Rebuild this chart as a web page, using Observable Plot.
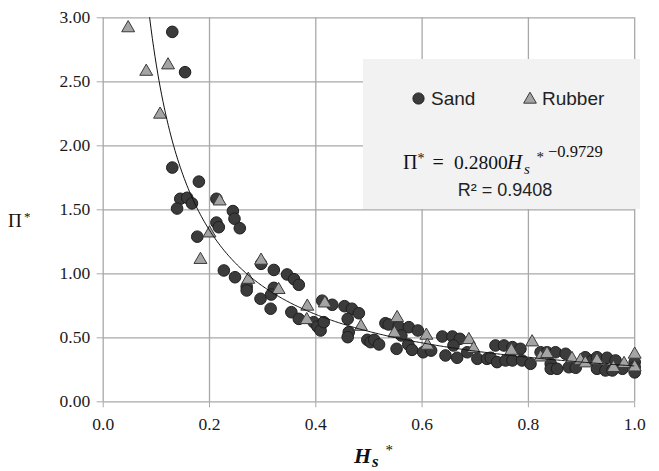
<!DOCTYPE html>
<html>
<head>
<meta charset="utf-8">
<script src="https://cdn.jsdelivr.net/npm/d3@7"></script>
<script src="https://cdn.jsdelivr.net/npm/@observablehq/plot@0.6"></script>
<style>
  html, body { margin: 0; padding: 0; background: #fff; }
  #chart { width: 659px; height: 471px; }
</style>
</head>
<body>
<div id="chart"></div>
<script>
// ---- Data ----
const sandX = [0.130,0.154,0.130,0.180,0.145,0.158,0.167,0.139,0.213,0.244,0.247,0.257,0.213,0.2175,0.177,
  0.227,0.248,0.270,0.270,0.296,0.315,0.297,0.321,0.346,0.359,0.368,0.321,0.316,0.354,0.368,
  0.396,0.403,0.409,0.415,0.412,0.431,0.454,0.468,0.481,0.460,0.462,0.460,0.497,0.503,0.510,
  0.519,0.531,0.537,0.556,0.575,0.592,0.561,0.552,0.574,0.581,0.602,0.617,0.638,0.657,0.671,
  0.644,0.666,0.659,0.685,0.704,0.722,0.729,0.741,0.738,0.754,0.770,0.785,0.757,0.770,0.788,
  0.804,0.823,0.835,0.851,0.870,0.842,0.842,0.854,0.876,0.889,0.907,0.920,0.929,0.948,0.964,
  0.929,0.945,0.958,0.977,1.000,1.000,1.000];
const sandY = [2.89,2.575,1.83,1.72,1.586,1.594,1.55,1.51,1.586,1.49,1.43,1.356,1.40,1.364,1.29,
  1.026,0.973,0.90,0.87,0.805,0.727,1.078,1.03,0.995,0.958,0.914,0.89,0.838,0.70,0.648,
  0.622,0.588,0.557,0.622,0.79,0.758,0.747,0.727,0.692,0.648,0.544,0.505,0.484,0.466,0.484,
  0.448,0.614,0.604,0.588,0.583,0.557,0.518,0.414,0.448,0.406,0.387,0.40,0.51,0.51,0.492,
  0.362,0.344,0.44,0.387,0.336,0.336,0.344,0.31,0.44,0.44,0.427,0.414,0.323,0.323,0.323,
  0.297,0.387,0.387,0.387,0.375,0.297,0.258,0.258,0.27,0.266,0.348,0.323,0.348,0.344,0.323,
  0.258,0.245,0.245,0.258,0.31,0.27,0.23];
const rubberX = [0.047,0.081,0.122,0.107,0.219,0.200,0.183,0.273,0.297,0.330,0.384,0.383,0.417,0.485,
  0.553,0.548,0.608,0.610,0.688,0.697,0.768,0.807,0.823,0.835,0.882,0.898,0.907,0.929,0.960,0.980,1.000,1.000];
const rubberY = [2.92,2.58,2.63,2.245,1.567,1.317,1.11,0.955,1.104,0.875,0.745,0.64,0.77,0.588,
  0.656,0.536,0.518,0.44,0.484,0.414,0.40,0.466,0.348,0.375,0.336,0.323,0.302,0.323,0.266,0.297,0.37,0.27];
const xTicks = [0, 0.2, 0.4, 0.6, 0.8, 1.0];
const yTicks = [0, 0.5, 1.0, 1.5, 2.0, 2.5, 3.0];
// Power trendline stated on the chart: Π* = 0.2800 Hs*^-0.9729
const trendA = 0.2800, trendB = -0.9729;

const sand = sandX.map((x, i) => ({x, y: sandY[i]}));
const rubber = rubberX.map((x, i) => ({x, y: rubberY[i]}));
const trend = d3.range(0.085, 1.0001, 0.0025).map(x => ({x, y: trendA * Math.pow(x, trendB)}));

const gridColor = "#a8a8a8";
const tickFont = "'Liberation Serif', serif";
const svg = Plot.plot({
  width: 659, height: 471,
  marginLeft: 102.7, marginRight: 24.8, marginTop: 17.3, marginBottom: 69.7,
  style: {fontFamily: tickFont, fontSize: "17.5px", background: "#fff", color: "#1a1a1a"},
  x: {domain: [0, 1]},
  y: {domain: [0, 3]},
  marks: [
    Plot.gridX(xTicks, {stroke: gridColor, strokeOpacity: 1, strokeWidth: 1.3}),
    Plot.gridY(yTicks, {stroke: gridColor, strokeOpacity: 1, strokeWidth: 1.3}),
    Plot.axisX(xTicks, {tickSize: 6, tickPadding: 10, stroke: gridColor, fill: "#1a1a1a", fontSize: 17.5, tickFormat: d3.format(".1f"), label: null}),
    Plot.axisY(yTicks, {tickSize: 6, tickPadding: 7, stroke: gridColor, fill: "#1a1a1a", fontSize: 17.5, tickFormat: d3.format(".2f"), label: null}),
    Plot.dot(sand, {x: "x", y: "y", r: 5.8, fill: "#3b3b3b", stroke: "#1e1e1e", strokeWidth: 1}),
    Plot.dot(rubber, {x: "x", y: "y", r: 4.8, symbol: "triangle", fill: "#a4a4a4", stroke: "#3a3a3a", strokeWidth: 1}),
    Plot.line(trend, {x: "x", y: "y", stroke: "#111", strokeWidth: 1, clip: true})
  ]
});
document.getElementById("chart").appendChild(svg);
d3.select(svg).selectAll("text").style("font-family", tickFont);

// ---- Legend box, equation and axis titles ----
const s = d3.select(svg);
const g = s.append("g").attr("text-anchor", "start");
g.append("rect").attr("x", 363).attr("y", 59).attr("width", 277).attr("height", 150).attr("fill", "#f2f2f2");
g.append("circle").attr("cx", 418.5).attr("cy", 98.5).attr("r", 5.6).attr("fill", "#3b3b3b").attr("stroke", "#1e1e1e");
g.append("path").attr("transform", "translate(530,99.5)")
  .attr("d", d3.symbol(d3.symbolTriangle, 70)()).attr("fill", "#a4a4a4").attr("stroke", "#3a3a3a");
const sans = "Liberation Sans";
const serif = "Liberation Serif";
g.append("text").attr("x", 431).attr("y", 105).attr("font-family", sans).attr("font-size", 19).attr("fill", "#222").text("Sand");
g.append("text").attr("x", 542).attr("y", 105).attr("font-family", sans).attr("font-size", 19).attr("fill", "#222").text("Rubber");

const eq = g.append("g").attr("font-family", serif).attr("fill", "#111");
eq.append("text").attr("x", 403).attr("y", 169.3).attr("font-size", 20).text("Π");
eq.append("text").attr("x", 417.5).attr("y", 163).attr("font-size", 14).text("*");
eq.append("text").attr("x", 432.5).attr("y", 169.3).attr("font-size", 20).text("=");
eq.append("text").attr("x", 454).attr("y", 169.3).attr("font-size", 19.5).text("0.2800");
eq.append("text").attr("x", 507).attr("y", 169.3).attr("font-size", 21).attr("font-style", "italic").text("H");
eq.append("text").attr("x", 524).attr("y", 174).attr("font-size", 15).attr("font-style", "italic").text("s");
eq.append("text").attr("x", 536.5).attr("y", 162).attr("font-size", 15).text("*");
eq.append("text").attr("x", 548).attr("y", 157.3).attr("font-size", 16.5).text("−0.9729");
g.append("text").attr("x", 457.7).attr("y", 195.7).attr("font-family", sans).attr("font-size", 18).attr("fill", "#222").text("R² = 0.9408");

// x axis title Hs*
const xt = s.append("g").attr("text-anchor", "start").attr("font-family", serif).attr("font-weight", "bold").attr("font-style", "italic").attr("fill", "#111");
xt.append("text").attr("x", 354).attr("y", 462.5).attr("font-size", 22).text("H");
xt.append("text").attr("x", 372).attr("y", 467).attr("font-size", 17).text("s");
xt.append("text").attr("x", 385.5).attr("y", 455).attr("font-size", 15).attr("font-weight", "normal").attr("font-style", "normal").text("*");
// y axis title Π*
const yt = s.append("g").attr("text-anchor", "start").attr("font-family", serif).attr("fill", "#111");
yt.append("text").attr("x", 8).attr("y", 227).attr("font-size", 19).text("Π");
yt.append("text").attr("x", 24).attr("y", 221).attr("font-size", 13).text("*");
</script>
</body>
</html>
